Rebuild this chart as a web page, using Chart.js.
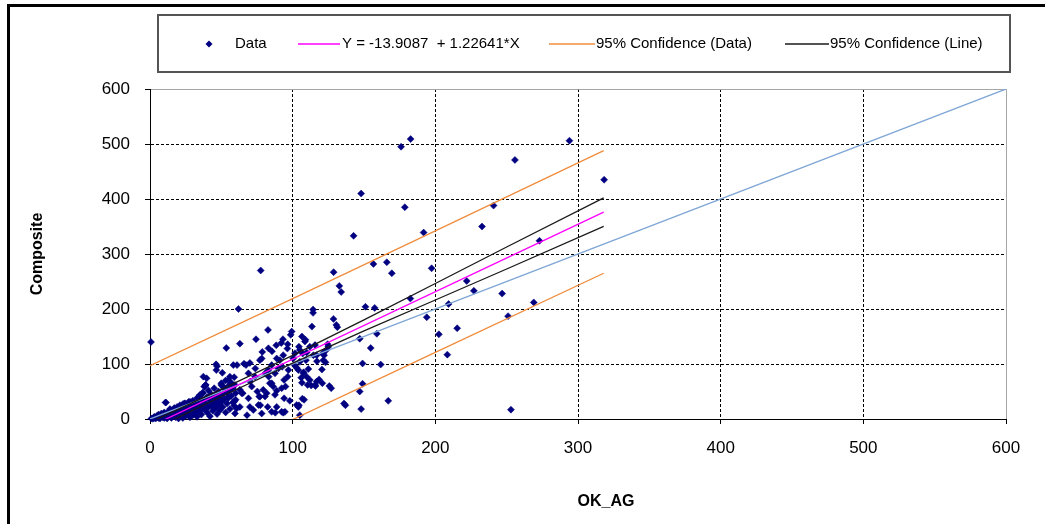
<!DOCTYPE html>
<html>
<head>
<meta charset="utf-8">
<title>Composite vs OK_AG</title>
<script src="https://cdn.jsdelivr.net/npm/chart.js@4.4.1/dist/chart.umd.min.js"></script>
<style>
  html, body { margin: 0; padding: 0; background: #fff; }
  #contenedor { width: 1045px; height: 524px; position: relative; }
</style>
</head>
<body>
<div id="contenedor"><canvas id="grafica"></canvas></div>
<script>
// --- Datos ---
const axisTicks = [0, 100, 200, 300, 400, 500, 600];

// Puntos [OK_AG, Composite]
const dataPoints = [
  // grupo denso cerca del origen
  [1,1],[2,0.5],[3,2],[3,4],[4,1],[5,3],[5,6],[6,2],[6,8],[7,4],[7,1],[8,5],[8,10],[9,3],[9,7],
  [10,12],[10,2],[11,30],[11,6],[12,9],[12,1],[13,14],[13,4],[14,7],[14,18],[15,11],[15,2],
  [16,16],[16,5],[17,9],[17,20],[18,13],[18,3],[19,7],[19,22],[20,17],[20,10],[20,1],[21,25],
  [21,5],[22,14],[22,8],[23,20],[23,27],[23,2],[24,11],[24,28],[25,17],[25,6],[26,23],[26,13],
  [27,9],[27,31],[28,19],[28,3],[29,25],[29,14],[30,33],[30,7],[31,22],[31,17],[32,28],[32,11],
  [33,38],[33,4],[34,20],[34,30],[35,43],[35,14],[36,25],[36,8],[37,35],[37,48],[38,18],[38,59],
  [39,28],[39,62],[40,40],[40,12],[41,22],[41,52],[42,33],[42,5],[43,45],[43,24],[44,15],[44,38],
  [45,56],[45,28],[46,20],[46,44],[47,35],[47,9],[48,50],[48,26],[49,40],[49,16],[50,62],[50,31],
  [51,45],[51,22],[52,36],[52,56],[53,12],[53,70],[54,48],[54,28],[55,38],[55,60],[56,18],[56,52],
  [57,65],[57,42],[58,30],[58,55],[59,76],[59,24],[60,47],[60,35],
  [11,30],[24.5,28.5],[28,31.5],[31.5,22],[35,43.6],[42,40.6],[44.4,31.5],
  [46.3,99.4],[50.7,84],[37.4,77],[39,62],[55,71],[52.6,56],[59.6,62],
  // zona media
  [39.7,74],[38.5,59],[37,47],[44.4,34.5],[43.5,24],[47,96],[46.5,89],[50,65],[51,59],[54,51.5],
  [54.7,40.6],[56,77],[57,65],[58.4,98],[61,98],[59,31.5],[60.7,19],[59.6,10],[63,53],[65,47],
  [65.9,100.6],[67.3,98],[70,102],[69,83],[70.3,68],[71.3,59],[68,7],[70,22],[73.8,92],[73.6,77],
  [77,107],[78.7,122],[75.2,50],[76.6,41],[79.4,53],[77.3,25],[78.3,10],[80.6,41],[82.5,22],
  [85.3,13],[80.8,83],[83.2,77],[84,65],[86.4,59],[88.8,51.5],[87.6,83],[90,92],[92.7,95],[94,71],
  [95,59],[96.5,77],[91,107],[93.4,116],[88.8,110],[78.3,110],[85.3,65],[92.3,56],[81.8,47],
  [87.6,44],[97,89],[85.3,98],[83,89],[76,25.5],[77,40.5],[69,37.6],[64.3,46.7],[72.4,16.4],
  [92.3,13],[63,22],[88.8,22],[94.6,13],[94,37.6],[98,33],[87.8,11.5],[93.4,11.5],
  [99.3,159],[98.6,153],[93.2,145],[92,138],[88.5,134],[83,128.5],[85.5,123],[96.5,136],[96.3,128],
  [104.4,131.5],[105,125.5],[106.5,150],[109,144],[107,119],[109.8,121],[109.3,107],[123.4,125],
  [124.5,136],[121,119],[122,116],[123,103],[118.5,72],[110.5,62],[113,61],[116,60],[106,75],
  [106.5,66],[107.7,85],[111,91],[101.6,97],[102.8,93],[105,104],[108.6,141],[101.6,119.5],
  [100.4,110],[112,131.5],[115.7,134.5],[114.5,116],[116.8,116],[125,131.5],[121.5,107],[104,89],
  [107.5,83],[109.8,77],[115.7,62],[116.8,68],[112,71],[120.8,65],[102.8,25.5],[104,22],
  [117,105],[120.5,90],[108,35],[105,7],[104.4,25],[106.8,37],
  // puntos dispersos
  [0.7,140],[62,200],[77.6,270],[53.5,129],[63,137],[82.7,162],[74.3,145],[128.7,267],[132.7,242],
  [134,231],[142.7,333],[148,410],[176,495],[182.7,509],[178.6,385],[156.6,282],[166,285],
  [169.5,265],[191.8,339],[197.4,274],[182.5,219],[151,204],[157.5,202],[114.3,199],[114.3,193],
  [128.6,182],[130.6,171],[131.3,167],[113.5,168],[159,155],[147,146],[154.7,129],[161.7,99],
  [149,101],[149,64],[147,50],[148,18],[167,33],[136,28],[137,25],[125.7,60],[127,56],[194,185],
  [202.5,154],[208.4,117],[209.3,209],[215.3,165],[222,251],[227,233],[232.7,350],[240.8,388],
  [246.8,228],[251,187],[253,17],[255.8,471],[269,212],[273,324],[294,506],[318.3,435]
];

// Recta de regresión: Y = -13.9087 + 1.22641*X
const fitX = [0, 318];
const fitY = [-13.9, 376.1];

// 95% Confianza (datos)
const bandDataX = [0, 100, 200, 318];
const bandDataUpper = [97, 219, 342, 488];
const bandDataLower = [-124, -1, 121, 265];

// 95% Confianza (recta)
const bandLineX = [0, 50, 100, 150, 200, 250, 318];
const bandLineUpper = [-5.9, 53.9, 115.7, 180.1, 246.4, 312.7, 402.1];
const bandLineLower = [-21.9, 40.9, 101.7, 160.1, 216.4, 272.7, 350.1];

// Línea 1:1
const identityX = [0, 600];
const identityY = [0, 600];

const legendItems = [
  { texto: 'Data', tipo: 'punto', color: '#000080', x0: 209, tx: 235 },
  { texto: 'Y = -13.9087  + 1.22641*X', tipo: 'linea', color: '#ff00ff', x0: 298, x1: 340, tx: 342 },
  { texto: '95% Confidence (Data)', tipo: 'linea', color: '#f08c3c', x0: 549, x1: 595, tx: 596 },
  { texto: '95% Confidence (Line)', tipo: 'linea', color: '#1a1a1a', x0: 785, x1: 829, tx: 830 }
];

const toXY = (xs, ys) => xs.map((x, i) => ({ x: x, y: ys[i] }));

const FUENTE = "'Liberation Sans', Arial, sans-serif";

const marco = {
  id: 'marco',
  beforeDraw(chart) {
    const ctx = chart.ctx;
    ctx.save();
    ctx.fillStyle = '#fff';
    ctx.fillRect(0, 0, chart.width, chart.height);
    ctx.fillStyle = '#000';
    ctx.fillRect(7, 4, chart.width - 7, 3);
    ctx.fillRect(7, 4, 3, chart.height - 4);

    // caja de la leyenda
    ctx.strokeStyle = '#555';
    ctx.lineWidth = 2;
    ctx.strokeRect(158, 15, 852, 57);

    ctx.font = '15px ' + FUENTE;
    ctx.textBaseline = 'middle';
    ctx.textAlign = 'left';
    const ly = 44;
    legendItems.forEach((it) => {
      if (it.tipo === 'punto') {
        ctx.fillStyle = it.color;
        ctx.beginPath();
        ctx.moveTo(it.x0, ly - 3.5);
        ctx.lineTo(it.x0 + 3.5, ly);
        ctx.lineTo(it.x0, ly + 3.5);
        ctx.lineTo(it.x0 - 3.5, ly);
        ctx.closePath();
        ctx.fill();
      } else {
        ctx.strokeStyle = it.color;
        ctx.lineWidth = 1.5;
        ctx.beginPath();
        ctx.moveTo(it.x0, ly);
        ctx.lineTo(it.x1, ly);
        ctx.stroke();
      }
      ctx.fillStyle = '#000';
      ctx.fillText(it.texto, it.tx, ly);
    });
    ctx.restore();
  },
  afterDraw(chart) {
    const ctx = chart.ctx;
    ctx.save();
    ctx.fillStyle = '#000';
    ctx.font = 'bold 16px ' + FUENTE;
    ctx.textAlign = 'center';
    ctx.textBaseline = 'middle';
    ctx.fillText('OK_AG', 606, 502);
    ctx.restore();
  }
};

const gridColor = (c) => (c.tick && c.tick.value === 600 ? '#a6a6a6' : '#000');
const gridDash = (c) => (c.tick && c.tick.value === 600 ? [] : [3, 2]);

const lineaBase = { showLine: true, pointRadius: 0, pointHoverRadius: 0, borderWidth: 1.3, tension: 0, fill: false };

new Chart(document.getElementById('grafica'), {
  type: 'scatter',
  data: {
    datasets: [
      {
        label: 'Data',
        data: dataPoints.map((p) => ({ x: p[0], y: p[1] })),
        pointStyle: 'rectRot',
        pointRadius: 3.5,
        backgroundColor: '#000080',
        borderColor: '#000080',
        borderWidth: 0.5,
        clip: 6,
        order: 10
      },
      Object.assign({ label: '1:1', data: toXY(identityX, identityY), borderColor: '#7fa6d5', order: 5 }, lineaBase),
      Object.assign({ label: 'Y = -13.9087 + 1.22641*X', data: toXY(fitX, fitY), borderColor: '#ff00ff', order: 1 }, lineaBase),
      Object.assign({ label: '95% Confidence (Data)', data: toXY(bandDataX, bandDataUpper), borderColor: '#f08c3c', order: 3 }, lineaBase),
      Object.assign({ label: '95% Confidence (Data) inf', data: toXY(bandDataX, bandDataLower), borderColor: '#f08c3c', order: 3 }, lineaBase),
      Object.assign({ label: '95% Confidence (Line)', data: toXY(bandLineX, bandLineUpper), borderColor: '#1a1a1a', order: 2 }, lineaBase),
      Object.assign({ label: '95% Confidence (Line) inf', data: toXY(bandLineX, bandLineLower), borderColor: '#1a1a1a', order: 2 }, lineaBase)
    ]
  },
  options: {
    responsive: true,
    maintainAspectRatio: false,
    animation: false,
    layout: { padding: { top: 89, right: 39, left: 0, bottom: 0 } },
    plugins: {
      legend: { display: false },
      tooltip: { enabled: false }
    },
    scales: {
      x: {
        type: 'linear',
        min: 0,
        max: 600,
        afterBuildTicks: (s) => { s.ticks = axisTicks.map((v) => ({ value: v })); },
        afterFit: (s) => { s.height = 105; },
        ticks: { color: '#000', font: { family: FUENTE, size: 17 }, padding: 14, maxRotation: 0 },
        grid: { color: gridColor, tickColor: '#000', tickLength: 5, lineWidth: 1 },
        border: { color: '#000', width: 1, dash: gridDash }
      },
      y: {
        type: 'linear',
        min: 0,
        max: 600,
        afterBuildTicks: (s) => { s.ticks = axisTicks.map((v) => ({ value: v })); },
        afterFit: (s) => { s.width = 150; },
        ticks: { color: '#000', font: { family: FUENTE, size: 17 }, padding: 15 },
        grid: { color: gridColor, tickColor: '#000', tickLength: 5, lineWidth: 1 },
        border: { color: '#000', width: 1, dash: gridDash },
        title: {
          display: true,
          text: 'Composite',
          color: '#000',
          font: { family: FUENTE, size: 16, weight: 'bold' },
          padding: { top: 28, bottom: 0 }
        }
      }
    }
  },
  plugins: [marco]
});
</script>
</body>
</html>
